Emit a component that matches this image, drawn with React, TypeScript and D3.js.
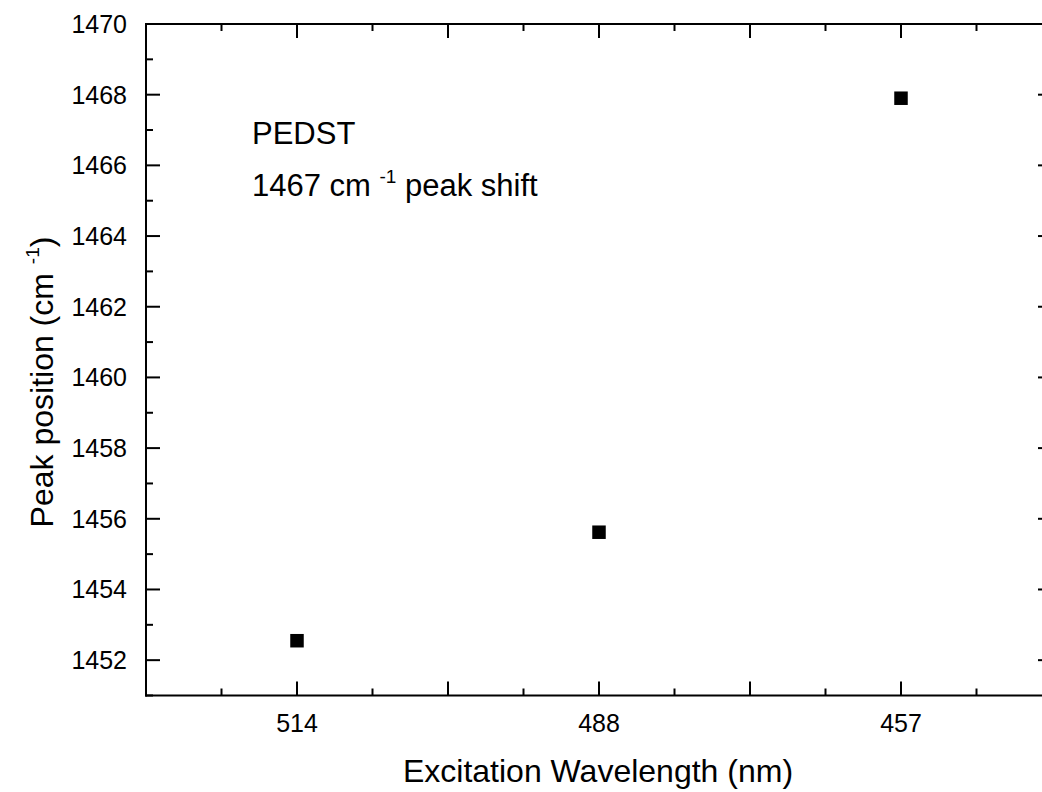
import React from "react";
import * as d3 from "d3";

const categories = ["514", "488", "457"];
const categoryPos = [1, 3, 5];
const peakValues = [1452.55, 1455.62, 1467.9];
const yMajorTicks = [1452, 1454, 1456, 1458, 1460, 1462, 1464, 1466, 1468, 1470];
const yMinorTicks = [1451, 1453, 1455, 1457, 1459, 1461, 1463, 1465, 1467, 1469];
const xMajorTicks = [0, 1, 2, 3, 4, 5, 6];
const xMinorTicks = [0.5, 1.5, 2.5, 3.5, 4.5, 5.5];

const W = 1042;
const H = 792;
const left = 146;
const right = 1052;
const top = 24;
const bottom = 695.5;

export default function App() {
  const x = d3.scaleLinear().domain([0, 6]).range([left, right]);
  const y = d3.scaleLinear().domain([1451, 1470]).range([bottom, top]);
  const font = "'Liberation Sans', Arial, sans-serif";
  const MAJ = 14;
  const MIN = 7;
  const sq = 13.5;
  return (
    <div style={{ position: "absolute", left: 0, top: 0, width: W, height: H, overflow: "hidden" }}>
      <svg width={W} height={H} style={{ display: "block", background: "#fff" }} fontFamily={font}>
        <rect x={0} y={0} width={W} height={H} fill="#fff" />
        <g stroke="#000" strokeWidth={2} fill="none">
          <line x1={left} x2={left} y1={top - 1} y2={bottom + 1} />
          <line x1={left - 1} x2={W} y1={bottom} y2={bottom} />
          <line x1={left - 1} x2={W} y1={top} y2={top} />
          {yMajorTicks.map((t) => (
            <g key={"ym" + t}>
              <line x1={left} x2={left + MAJ} y1={y(t)} y2={y(t)} />
              <line x1={right} x2={right - MAJ} y1={y(t)} y2={y(t)} />
            </g>
          ))}
          {yMinorTicks.map((t) => (
            <g key={"yn" + t}>
              <line x1={left} x2={left + MIN} y1={y(t)} y2={y(t)} />
            </g>
          ))}
          {xMajorTicks
            .filter((t) => x(t) < W)
            .map((t) => (
              <g key={"xm" + t}>
                <line x1={x(t)} x2={x(t)} y1={bottom} y2={bottom - MAJ} />
                <line x1={x(t)} x2={x(t)} y1={top} y2={top + MAJ} />
              </g>
            ))}
          {xMinorTicks.map((t) => (
            <g key={"xn" + t}>
              <line x1={x(t)} x2={x(t)} y1={bottom} y2={bottom - MIN} />
              <line x1={x(t)} x2={x(t)} y1={top} y2={top + MIN} />
            </g>
          ))}
        </g>
        <g fontSize={25} fill="#000">
          {yMajorTicks.map((t) => (
            <text key={"yl" + t} x={127} y={y(t)} dy="0.36em" textAnchor="end">
              {t}
            </text>
          ))}
          {categories.map((c, i) => (
            <text key={"xl" + c} x={x(categoryPos[i])} y={732} textAnchor="middle">
              {c}
            </text>
          ))}
        </g>
        <g fill="#000">
          {peakValues.map((v, i) => (
            <rect
              key={"p" + i}
              x={x(categoryPos[i]) - sq / 2}
              y={y(v) - sq / 2}
              width={sq}
              height={sq}
            />
          ))}
        </g>
        <text x={598} y={782} fontSize={32} textAnchor="middle" fill="#000">
          Excitation Wavelength (nm)
        </text>
        <text
          transform={`translate(53, 382) rotate(-90)`}
          fontSize={32}
          textAnchor="middle"
          fill="#000"
        >
          Peak position (cm <tspan fontSize={19} dy={-14}>-1</tspan>
          <tspan dy={14}>)</tspan>
        </text>
        <text x={252} y={144} fontSize={31} fill="#000">
          PEDST
        </text>
        <text x={252} y={196} fontSize={31} fill="#000">
          1467 cm <tspan fontSize={19} dy={-13}>-1</tspan>
          <tspan dy={13}> peak shift</tspan>
        </text>
      </svg>
    </div>
  );
}
